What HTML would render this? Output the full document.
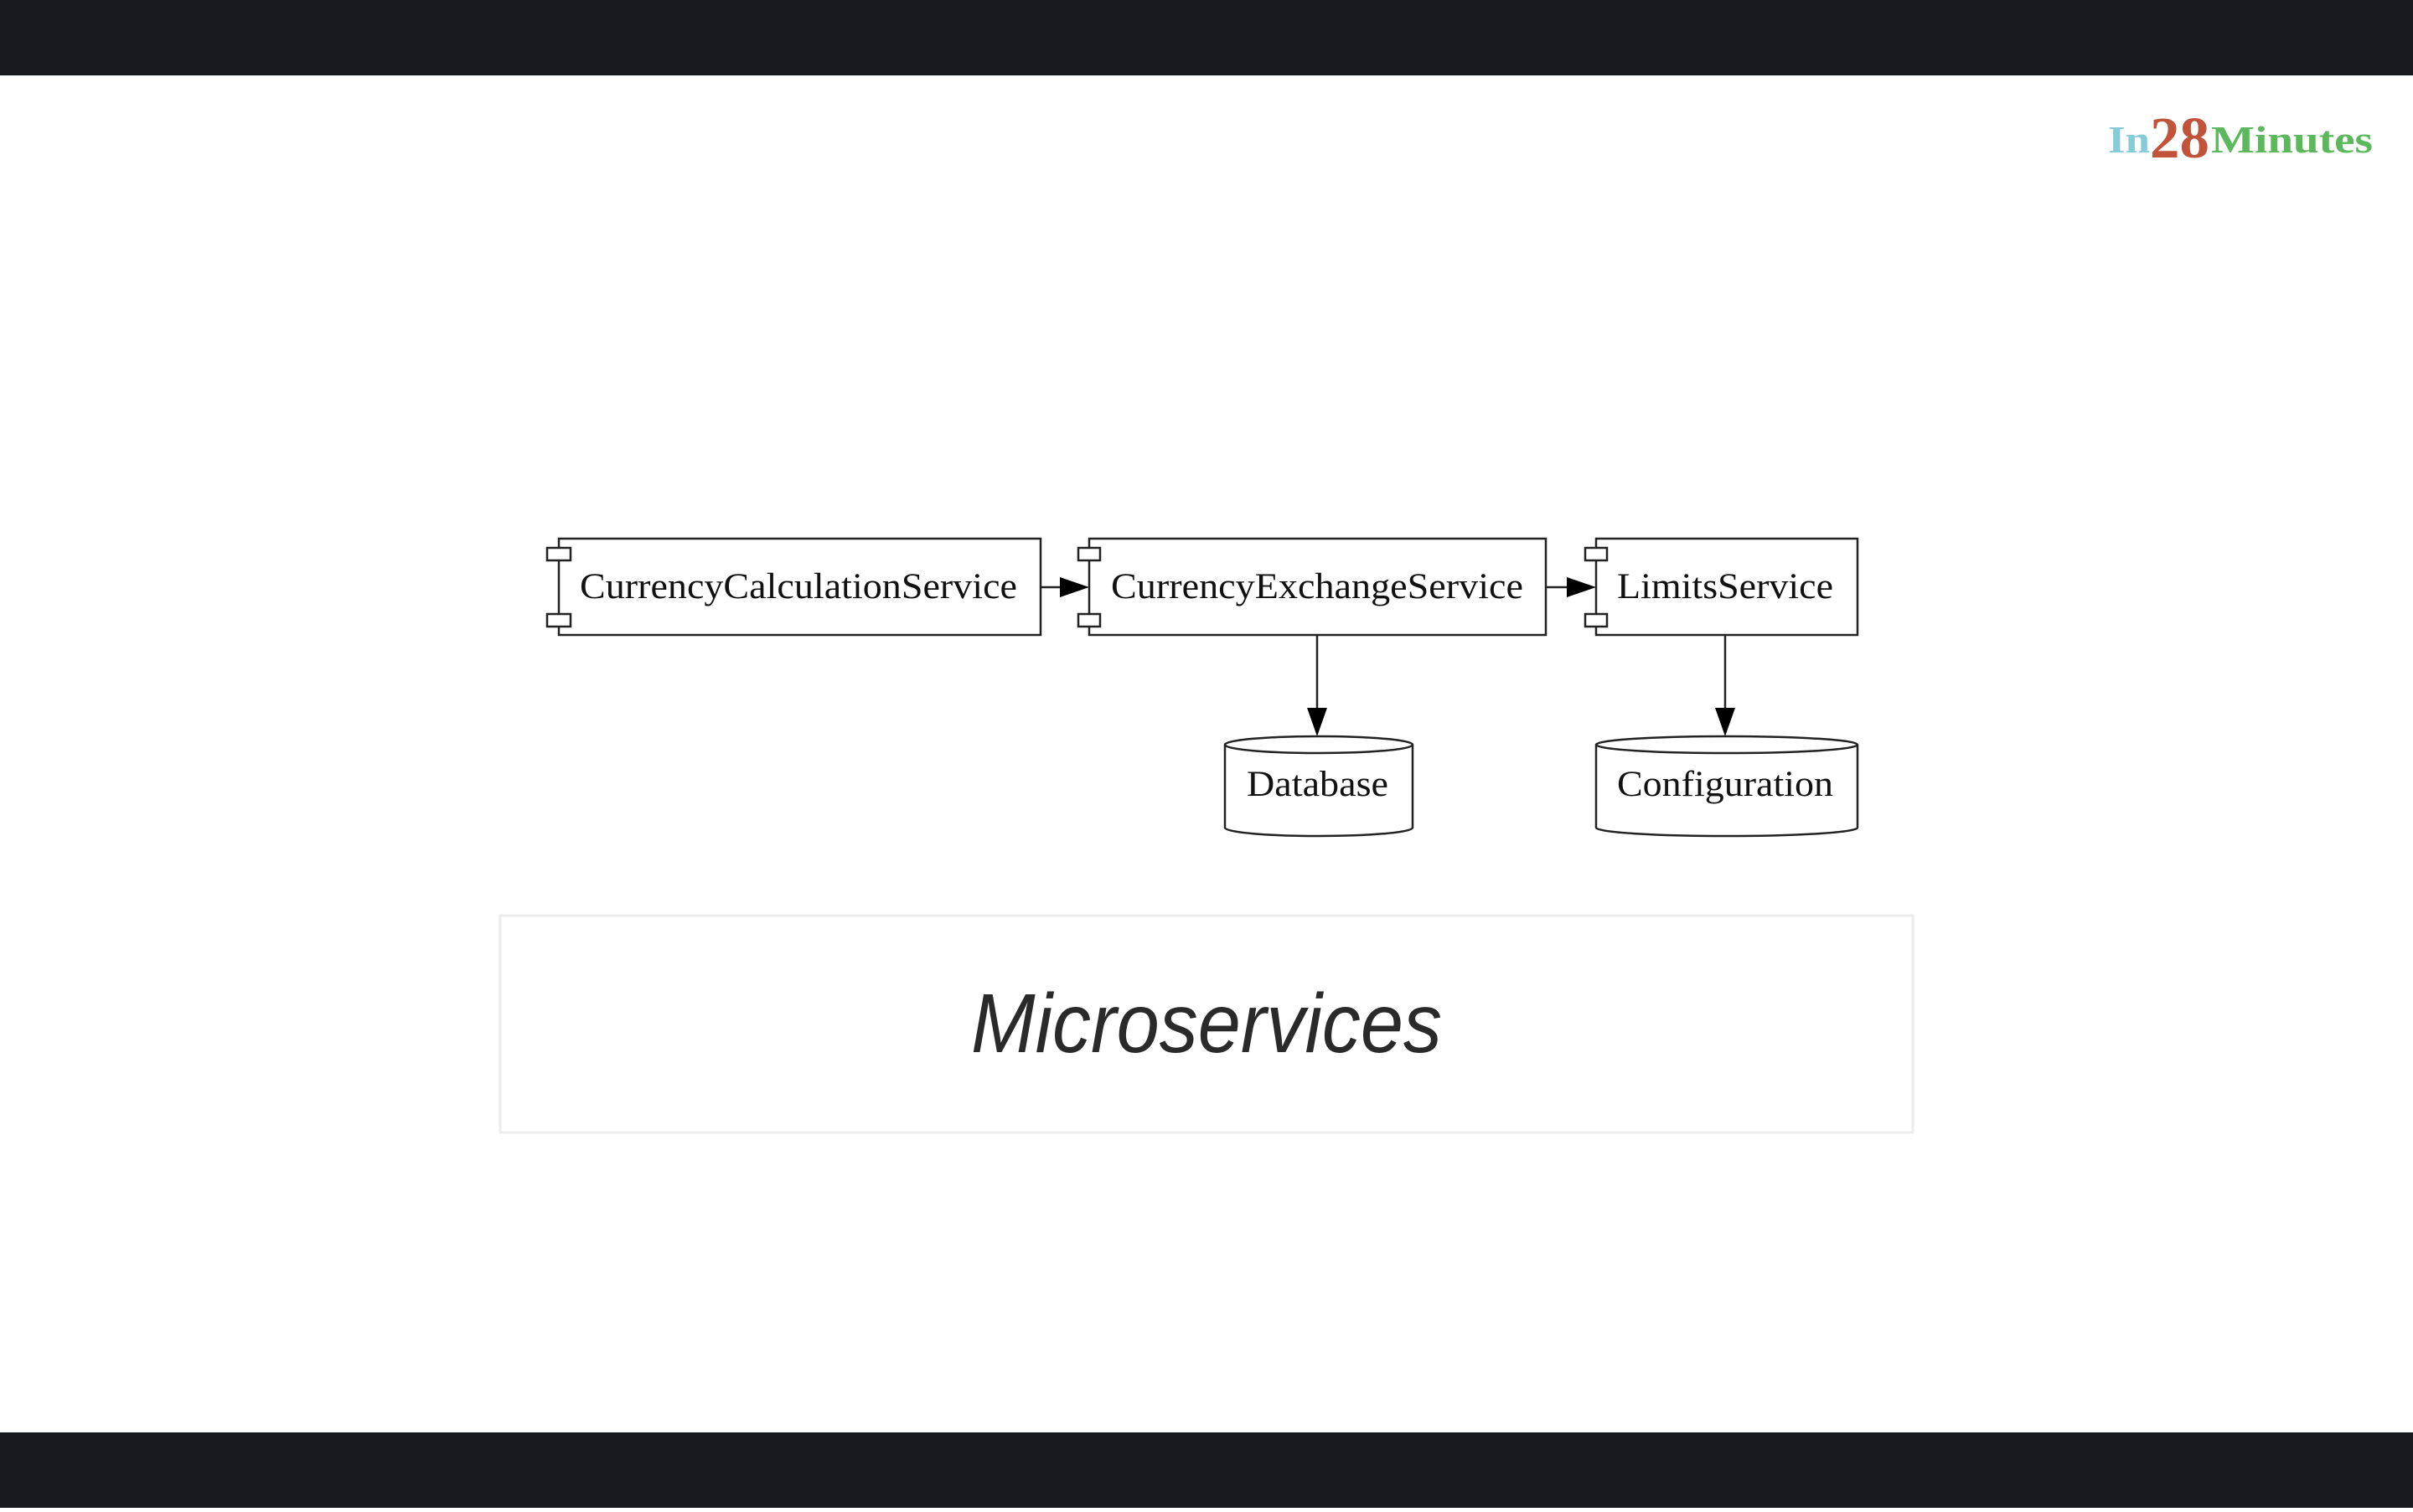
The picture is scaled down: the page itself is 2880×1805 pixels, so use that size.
<!DOCTYPE html>
<html><head><meta charset="utf-8"><style>
html,body{margin:0;padding:0;background:#fff;}
body{width:2880px;height:1800px;overflow:hidden;position:relative;}
</style></head><body>
<svg width="2880" height="1800" viewBox="0 0 2880 1800" xmlns="http://www.w3.org/2000/svg">
<rect x="0" y="0" width="2880" height="90" fill="#15181d"/>
<rect x="0" y="1710" width="2880" height="90" fill="#15181d"/>

<!-- logo -->
<g font-family="Liberation Serif, serif" font-weight="bold">
<text x="2516" y="182" font-size="46" fill="#86cbd8" textLength="50" lengthAdjust="spacingAndGlyphs">In</text>
<text x="2566" y="188" font-size="70" fill="#c0533a" textLength="71" lengthAdjust="spacingAndGlyphs">28</text>
<text x="2639" y="182" font-size="46" fill="#5cb85c" textLength="193" lengthAdjust="spacingAndGlyphs">Minutes</text>
</g>

<g stroke="#222" stroke-width="2.5" fill="#fff">
<!-- box1 -->
<rect x="667" y="643" width="575" height="115"/>
<rect x="653" y="654" width="28" height="15"/>
<rect x="653" y="733" width="28" height="15"/>
<!-- box2 -->
<rect x="1300" y="643" width="545" height="115"/>
<rect x="1287" y="654" width="26" height="15"/>
<rect x="1287" y="733" width="26" height="15"/>
<!-- box3 -->
<rect x="1905" y="643" width="312" height="115"/>
<rect x="1892" y="654" width="26" height="15"/>
<rect x="1892" y="733" width="26" height="15"/>
<!-- connectors -->
<line x1="1242" y1="701" x2="1268" y2="701"/>
<line x1="1845" y1="701" x2="1872" y2="701"/>
<line x1="1572" y1="758" x2="1572" y2="850"/>
<line x1="2059" y1="758" x2="2059" y2="850"/>
<!-- cylinders -->
<path d="M1462,889 L1462,988 A112,10 0 0 0 1686,988 L1686,889"/>
<ellipse cx="1574" cy="889" rx="112" ry="10"/>
<path d="M1905,889 L1905,988 A156,10 0 0 0 2217,988 L2217,889"/>
<ellipse cx="2061" cy="889" rx="156" ry="10"/>
</g>
<g fill="#000">
<polygon points="1265,689 1300,701 1265,713"/>
<polygon points="1870,689 1905,701 1870,713"/>
<polygon points="1560,845 1584,845 1572,879"/>
<polygon points="2047,845 2071,845 2059,879"/>
</g>
<g font-family="Liberation Serif, serif" font-size="43" fill="#111">
<text x="692" y="714" textLength="522" lengthAdjust="spacingAndGlyphs">CurrencyCalculationService</text>
<text x="1326" y="714" textLength="492" lengthAdjust="spacingAndGlyphs">CurrencyExchangeService</text>
<text x="1930" y="714" textLength="258" lengthAdjust="spacingAndGlyphs">LimitsService</text>
<text x="1488" y="950" textLength="169" lengthAdjust="spacingAndGlyphs">Database</text>
<text x="1930" y="950" textLength="258" lengthAdjust="spacingAndGlyphs">Configuration</text>
</g>

<!-- title box -->
<rect x="597" y="1093" width="1686" height="259" fill="#fff" stroke="#ececec" stroke-width="3"/>
<text x="1159" y="1256" font-family="Liberation Sans, sans-serif" font-style="italic" font-size="100" fill="#2a2a2a" textLength="562" lengthAdjust="spacingAndGlyphs">Microservices</text>
</svg>
</body></html>
